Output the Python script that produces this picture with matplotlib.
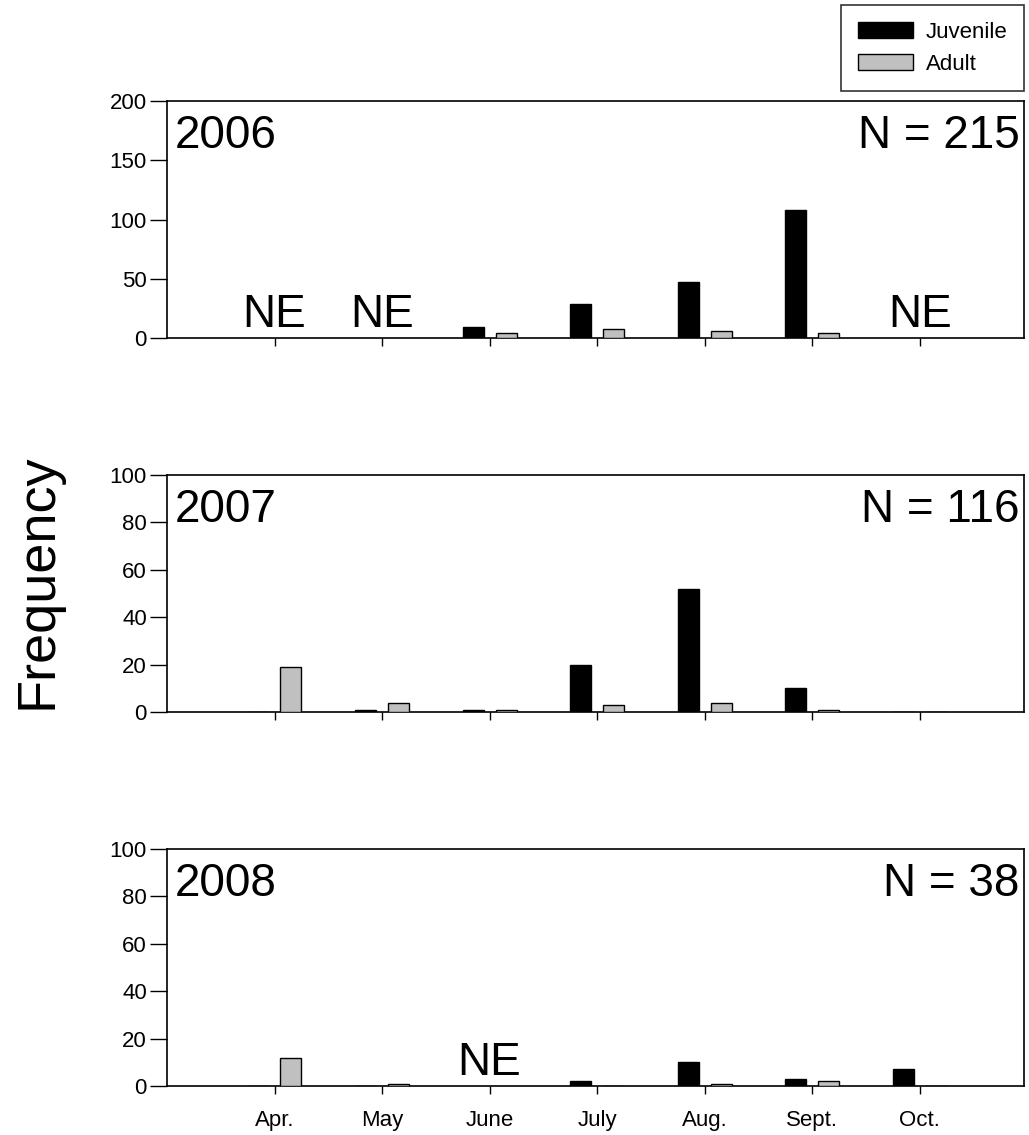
import numpy as np
import matplotlib
matplotlib.use("Agg")
import matplotlib.pyplot as plt
from matplotlib.patches import Patch

plt.rcParams['font.family'] = ['Liberation Sans', 'DejaVu Sans']

months = ["Apr.", "May", "June", "July", "Aug.", "Sept.", "Oct."]
years = ["2006", "2007", "2008"]

# Monthly counts (NaN = month not sampled, labelled "NE")
juvenile_2006 = [np.nan, np.nan, 9, 29, 47, 108, np.nan]
adult_2006 = [np.nan, np.nan, 4, 8, 6, 4, np.nan]
juvenile_2007 = [0, 1, 1, 20, 52, 10, 0]
adult_2007 = [19, 4, 1, 3, 4, 1, 0]
juvenile_2008 = [0, 0, np.nan, 2, 10, 3, 7]
adult_2008 = [12, 1, np.nan, 0, 1, 2, 0]

totals = [215, 116, 38]
ymax = [200, 100, 100]
ystep = [50, 20, 20]

juvenile = [juvenile_2006, juvenile_2007, juvenile_2008]
adult = [adult_2006, adult_2007, adult_2008]

JUV_COLOR = "black"
ADULT_COLOR = "#c0c0c0"

fig = plt.figure(figsize=(10.29, 11.35), dpi=100)
left, width, height = 0.1623, 0.8328, 0.2088
bottoms = [0.7022, 0.3727, 0.0432]

x = np.arange(1, len(months) + 1)
bw = 0.195
off = 0.153

for i in range(3):
    ax = fig.add_axes([left, bottoms[i], width, height])
    j = np.array(juvenile[i], dtype=float)
    a = np.array(adult[i], dtype=float)
    jb = ax.bar(x - off, np.nan_to_num(j), bw, color=JUV_COLOR, edgecolor="black", linewidth=1.0, zorder=3)
    ab = ax.bar(x + off, np.nan_to_num(a), bw, color=ADULT_COLOR, edgecolor="black", linewidth=1.0, zorder=3)
    for k in range(len(months)):
        if np.isnan(j[k]):
            jb[k].set_visible(False)
            ab[k].set_visible(False)
            ax.text(x[k], 0.048, "NE", transform=ax.get_xaxis_transform(),
                    ha="center", va="baseline", fontsize=33)
    ax.set_xlim(0, 7.97)
    ax.set_ylim(0, ymax[i])
    ax.set_yticks(np.arange(0, ymax[i] + 1, ystep[i]))
    ax.set_xticks(x)
    if i == 2:
        ax.set_xticklabels(months)
    else:
        ax.set_xticklabels([])
    ax.tick_params(axis="y", direction="out", length=12.5, width=1.0, pad=2, labelsize=16)
    ax.tick_params(axis="x", direction="out", length=6, width=1.0, pad=11, labelsize=16)
    for s in ax.spines.values():
        s.set_linewidth(1.2)
    ax.text(0.009, 0.80, years[i], transform=ax.transAxes, ha="left", va="baseline", fontsize=33)
    ax.text(0.995, 0.80, f"N = {totals[i]}", transform=ax.transAxes, ha="right", va="baseline", fontsize=33)

fig.text(0.036, 0.488, "Frequency", rotation=90, ha="center", va="center", fontsize=39)

handles = [Patch(facecolor=JUV_COLOR, edgecolor="black", linewidth=1.0),
           Patch(facecolor=ADULT_COLOR, edgecolor="black", linewidth=1.0)]
leg = fig.legend(handles, ["Juvenile", "Adult"], loc="upper right",
                 bbox_to_anchor=(1024 / 1029, 1 - 5 / 1135), bbox_transform=fig.transFigure,
                 fontsize=16, frameon=True, fancybox=False, edgecolor="black",
                 handlelength=2.5, handleheight=0.7, handletextpad=0.55,
                 labelspacing=0.5, borderpad=0.75, borderaxespad=0)
leg.get_frame().set_linewidth(1.2)

fig.savefig("out.png", dpi=100)
